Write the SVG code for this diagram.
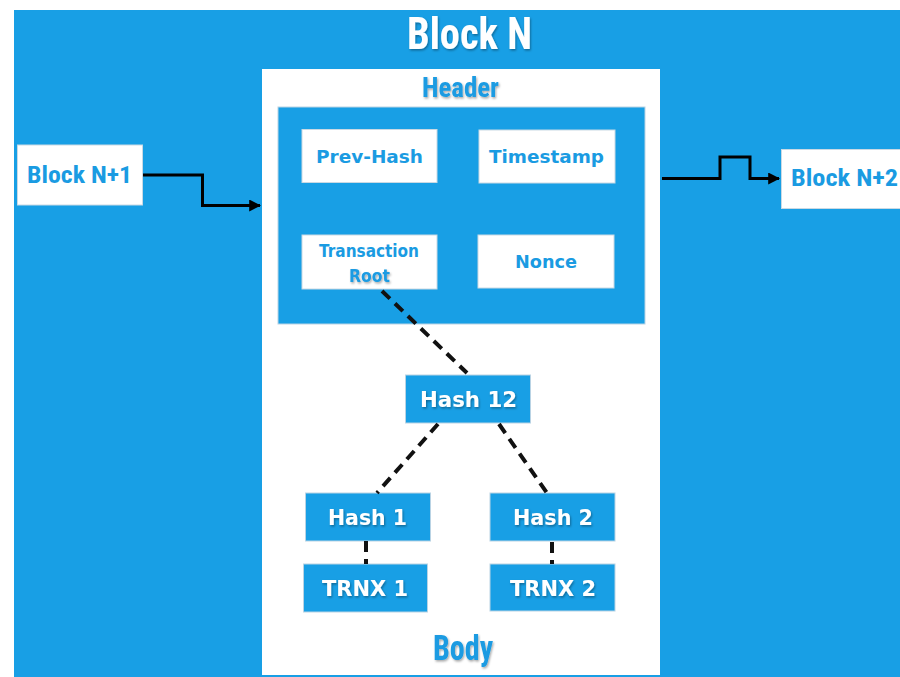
<svg xmlns="http://www.w3.org/2000/svg" width="900" height="677" viewBox="0 0 900 677">
<defs>
<style>
.bg{fill:#189fe5}
.wbox{fill:#ffffff;stroke:#c9d9e4;stroke-width:1}
.bbox{fill:#189fe5;stroke:#b9d3e4;stroke-width:1}
.cond{font-family:"Liberation Sans Narrow","Roboto Condensed","Liberation Sans",sans-serif;font-weight:bold;text-anchor:middle}
.ver{font-family:"DejaVu Sans","Verdana",sans-serif;font-weight:bold;text-anchor:middle}
.blue{fill:#1a9be2}
.white{fill:#ffffff}
.arrow{fill:none;stroke:#000;stroke-width:3;stroke-linejoin:miter}
.dash{fill:none;stroke:#111;stroke-width:4;stroke-dasharray:11 7}
</style>
<marker id="ah" viewBox="0 0 10 10" refX="9" refY="5" markerWidth="4" markerHeight="4" orient="auto" markerUnits="strokeWidth">
<path d="M0,0 L10,5 L0,10 z" fill="#000"/>
</marker>
<filter id="sh" x="-10%" y="-20%" width="130%" height="150%">
<feDropShadow dx="1" dy="1.5" stdDeviation="0.8" flood-color="#000" flood-opacity="0.35"/>
</filter>
</defs>

<rect class="bg" x="14" y="10" width="886" height="667"/>

<g id="title">
<text class="cond white" x="469.5" y="49" font-size="44" textLength="125" lengthAdjust="spacingAndGlyphs" filter="url(#sh)">Block N</text>
</g>

<g id="blockN">
<rect fill="#fff" x="262" y="69" width="398" height="606"/>
<text class="cond blue" x="460.5" y="97" font-size="27" textLength="77" lengthAdjust="spacingAndGlyphs" filter="url(#sh)">Header</text>
<text class="cond blue" x="463" y="660" font-size="35" textLength="60" lengthAdjust="spacingAndGlyphs" filter="url(#sh)">Body</text>
</g>

<g id="header">
<rect class="bbox" x="278" y="107" width="367" height="217"/>
</g>

<g id="prevhash">
<rect class="wbox" x="302" y="129.5" width="135" height="53"/>
<text class="ver blue" x="369.5" y="162.5" font-size="17.5" textLength="107" lengthAdjust="spacingAndGlyphs">Prev-Hash</text>
</g>
<g id="timestamp">
<rect class="wbox" x="479" y="130" width="136" height="53"/>
<text class="ver blue" x="546.5" y="163" font-size="17.5" textLength="115" lengthAdjust="spacingAndGlyphs">Timestamp</text>
</g>
<g id="txroot">
<rect class="wbox" x="302" y="235" width="135" height="54"/>
<text class="ver blue" x="369" y="256.5" font-size="17" textLength="100" lengthAdjust="spacingAndGlyphs" font-weight="600">Transaction</text>
<text class="ver blue" x="369.5" y="281.5" font-size="17.5" textLength="41" lengthAdjust="spacingAndGlyphs" filter="url(#sh)">Root</text>
</g>
<g id="nonce">
<rect class="wbox" x="478" y="235" width="136" height="53"/>
<text class="ver blue" x="546" y="268" font-size="17.5" textLength="62" lengthAdjust="spacingAndGlyphs">Nonce</text>
</g>

<g id="hash12">
<rect class="bbox" x="405.5" y="375" width="125" height="48"/>
<text class="ver white" x="468.5" y="406.5" font-size="21" textLength="97" lengthAdjust="spacingAndGlyphs" filter="url(#sh)">Hash 12</text>
</g>
<g id="hash1">
<rect class="bbox" x="305.5" y="493" width="125" height="48"/>
<text class="ver white" x="367.5" y="524.5" font-size="21" textLength="79" lengthAdjust="spacingAndGlyphs" filter="url(#sh)">Hash 1</text>
</g>
<g id="hash2">
<rect class="bbox" x="490" y="493" width="125" height="48"/>
<text class="ver white" x="553" y="524.5" font-size="21" textLength="80" lengthAdjust="spacingAndGlyphs" filter="url(#sh)">Hash 2</text>
</g>
<g id="trnx1">
<rect class="bbox" x="303.5" y="564" width="124" height="48"/>
<text class="ver white" x="365" y="596" font-size="21" textLength="86" lengthAdjust="spacingAndGlyphs" filter="url(#sh)">TRNX 1</text>
</g>
<g id="trnx2">
<rect class="bbox" x="490" y="564" width="125" height="47"/>
<text class="ver white" x="553" y="595.5" font-size="21" textLength="86" lengthAdjust="spacingAndGlyphs" filter="url(#sh)">TRNX 2</text>
</g>

<g id="blockN1">
<rect class="wbox" x="17.5" y="145" width="125" height="60"/>
<text class="cond blue" x="79.5" y="183" font-size="23" textLength="105" lengthAdjust="spacingAndGlyphs">Block N+1</text>
</g>
<g id="blockN2">
<rect class="wbox" x="781.5" y="149.5" width="120" height="59"/>
<text class="cond blue" x="844.5" y="186" font-size="23" textLength="107" lengthAdjust="spacingAndGlyphs">Block N+2</text>
</g>

<g id="connectors">
<path class="arrow" d="M143,175 H202.5 V205.5 H260" marker-end="url(#ah)"/>
<path class="arrow" d="M662,178.5 H720 V157 H750 V178.5 H779" marker-end="url(#ah)"/>
<path class="dash" d="M382,291 L467,373"/>
<path class="dash" d="M438,424 L377,493"/>
<path class="dash" d="M499,424 L547,493"/>
<path class="dash" d="M366,541 V564" stroke-dasharray="8 5"/>
<path class="dash" d="M552,542 V564" stroke-dasharray="8 5"/>
</g>
</svg>
